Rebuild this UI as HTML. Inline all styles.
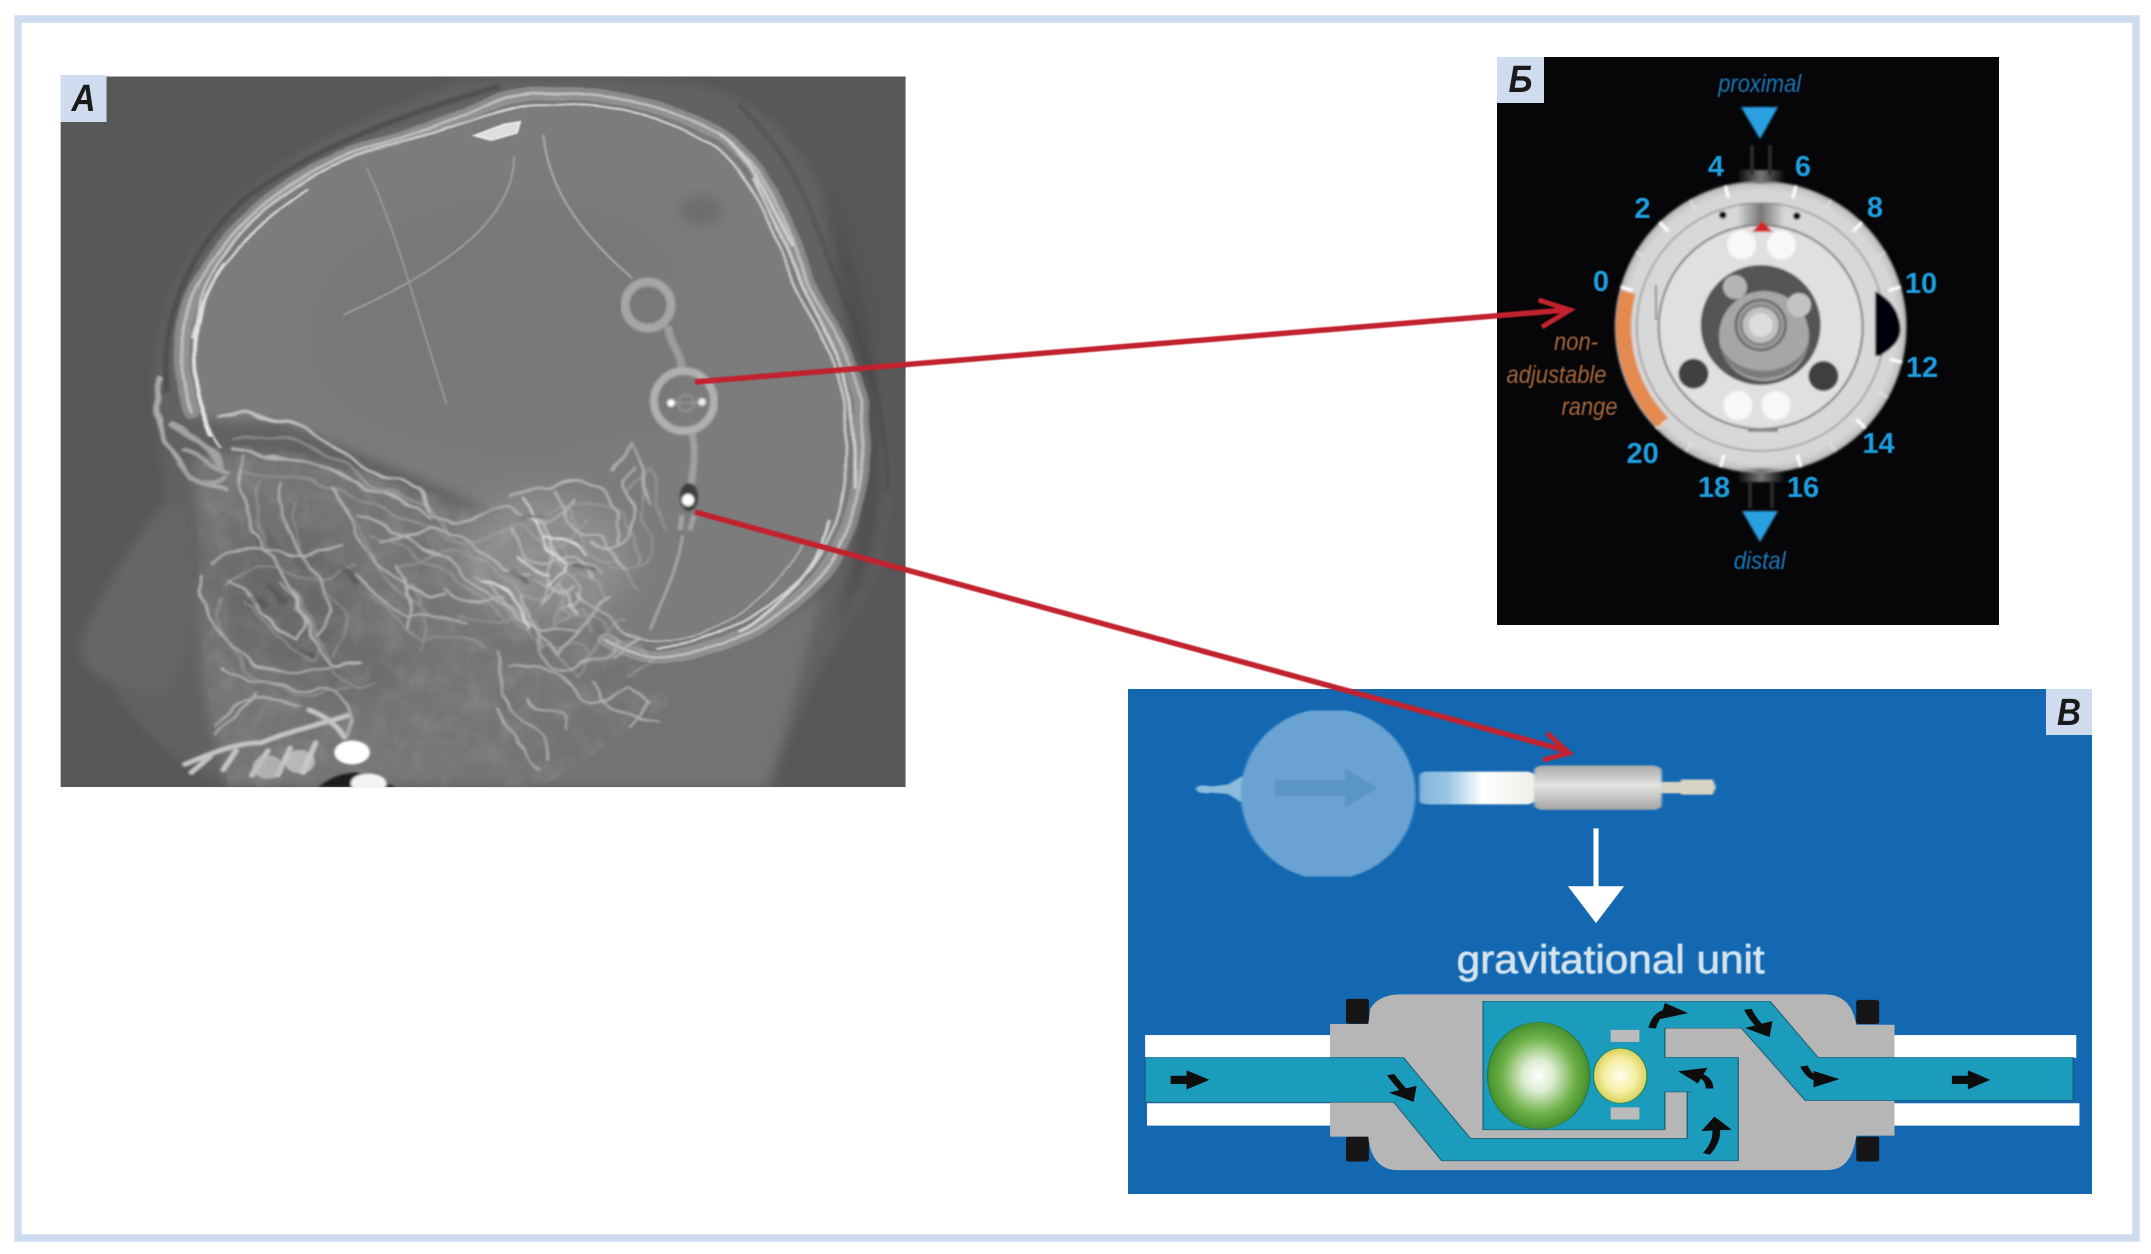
<!DOCTYPE html>
<html><head><meta charset="utf-8"><style>
html,body{margin:0;padding:0;background:#fff;width:2151px;height:1254px;overflow:hidden}
svg{display:block}
text{font-family:"Liberation Sans","DejaVu Sans",sans-serif}
</style></head><body>
<svg width="2151" height="1254" viewBox="0 0 2151 1254" xmlns="http://www.w3.org/2000/svg">
<defs>
<filter id="b1" x="-5%" y="-5%" width="110%" height="110%"><feGaussianBlur stdDeviation="1.3"/></filter>
<filter id="b15" x="-5%" y="-5%" width="110%" height="110%"><feGaussianBlur stdDeviation="2"/></filter>
<filter id="b2" x="-10%" y="-10%" width="120%" height="120%"><feGaussianBlur stdDeviation="9"/></filter>
<filter id="b3" x="-20%" y="-20%" width="140%" height="140%"><feGaussianBlur stdDeviation="24"/></filter>
<filter id="bt"><feGaussianBlur stdDeviation="0.6"/></filter>
<filter id="bd"><feGaussianBlur stdDeviation="1"/></filter>
<filter id="wig" x="-5%" y="-5%" width="110%" height="110%">
 <feTurbulence type="fractalNoise" baseFrequency="0.018" numOctaves="2" seed="7" result="n"/>
 <feDisplacementMap in="SourceGraphic" in2="n" scale="26" xChannelSelector="R" yChannelSelector="G"/>
 <feGaussianBlur stdDeviation="2"/>
</filter>
<filter id="wig2" x="-3%" y="-3%" width="106%" height="106%">
 <feTurbulence type="fractalNoise" baseFrequency="0.012" numOctaves="2" seed="3" result="n"/>
 <feDisplacementMap in="SourceGraphic" in2="n" scale="10" xChannelSelector="R" yChannelSelector="G"/>
 <feGaussianBlur stdDeviation="1.6"/>
</filter>
<filter id="noise" x="0" y="0" width="100%" height="100%">
 <feTurbulence type="fractalNoise" baseFrequency="0.03 0.022" numOctaves="3" seed="11"/>
 <feColorMatrix values="0 0 0 0 1  0 0 0 0 1  0 0 0 0 1  1.6 0 0 0 -.62"/>
</filter>
<clipPath id="ca"><rect x="95" y="141" width="1325" height="1311"/></clipPath>
<clipPath id="face"><path d="M320,820 C440,810 620,880 800,960 L1000,1170 L1050,1300 L850,1452 L360,1452 C320,1300 300,1100 320,820Z"/></clipPath>
<clipPath id="bulb"><rect x="190" y="118" width="300" height="482"/></clipPath>
<radialGradient id="green"><stop offset="0" stop-color="#fff"/><stop offset=".3" stop-color="#dcecd0"/><stop offset=".72" stop-color="#6db046"/><stop offset="1" stop-color="#46902f"/></radialGradient>
<radialGradient id="yel"><stop offset="0" stop-color="#fffdf0"/><stop offset=".6" stop-color="#f5efa0"/><stop offset="1" stop-color="#d8d060"/></radialGradient>
<linearGradient id="cyl" x1="0" y1="0" x2="0" y2="1"><stop offset="0" stop-color="#a8abab"/><stop offset=".45" stop-color="#e4e4e2"/><stop offset="1" stop-color="#a4a5a3"/></linearGradient>
<linearGradient id="tube" x1="0" y1="0" x2="1" y2="0"><stop offset="0" stop-color="#7fb3dc"/><stop offset=".25" stop-color="#9cc6e4"/><stop offset=".55" stop-color="#fff"/><stop offset="1" stop-color="#f0f0ea"/></linearGradient>
<radialGradient id="dial"><stop offset="0" stop-color="#e2e2e2"/><stop offset=".93" stop-color="#d6d6d6"/><stop offset=".98" stop-color="#c4c4c4"/><stop offset="1" stop-color="#8c8c8c"/></radialGradient>
<linearGradient id="bandTop" x1="0" y1="0" x2="1" y2="0"><stop offset="0" stop-color="#777" stop-opacity="0"/><stop offset=".5" stop-color="#777"/><stop offset="1" stop-color="#777" stop-opacity="0"/></linearGradient>
<marker id="ah" markerWidth="4" markerHeight="4" refX="1" refY="2" orient="auto"><path d="M0,0 L3.4,2 L0,4Z" fill="#111"/></marker>
</defs>

<!-- frame -->
<rect x="18" y="19" width="2118" height="1219" fill="#fff" stroke="#cfdcf0" stroke-width="7.5"/>

<!-- PANEL A -->
<g transform="scale(.6378,.5421)" clip-path="url(#ca)">
 <rect x="95" y="141" width="1325" height="1311" fill="#575757"/>
 <g filter="url(#b2)">
  <path d="M720,150 C800,140 1080,135 1150,175 C1210,210 1250,270 1280,330 C1320,420 1360,560 1385,720 C1400,880 1395,1000 1365,1080 C1320,1170 1280,1240 1250,1330 L1205,1452 L360,1452 C250,1400 190,1300 175,1260 C130,1240 120,1210 130,1170 C160,1100 200,1000 260,920 C250,800 230,700 250,620 C280,440 400,310 560,225 C620,195 680,170 720,150Z" fill="#626262"/>
  <path d="M1290,340 C1340,470 1370,600 1378,720 C1390,880 1380,1000 1350,1080 L1300,1180 C1340,1060 1360,900 1345,730 C1330,620 1310,480 1290,340Z" fill="#505050"/>
  <path d="M130,1170 C160,1100 200,1000 280,920 L320,1100 L260,1280 L175,1260 C130,1240 120,1210 130,1170Z" fill="#666"/>
  <path d="M300,760 C270,640 280,560 340,470 C400,370 500,290 620,250 C690,225 750,190 830,175 C950,165 1060,200 1130,250 C1200,310 1230,400 1260,500 C1280,570 1330,640 1350,740 C1360,880 1340,990 1280,1070 C1220,1150 1130,1205 1040,1210 C960,1200 900,1100 800,960 C700,900 560,830 440,780 C400,770 340,790 300,760Z" fill="#7b7b7b"/>
  <path d="M560,1130 C700,1100 880,1120 1040,1210 C1120,1205 1240,1150 1290,1090 L1205,1452 L600,1452Z" fill="#737373"/>
  <path d="M300,850 C420,800 600,880 800,970 L980,1190 L800,1452 L360,1452 C330,1360 300,1200 320,1050Z" fill="#747474"/>
  <ellipse cx="1098" cy="388" rx="34" ry="30" fill="#6e6e6e"/>
 </g>
 <g filter="url(#b3)">
  <path d="M500,600 C500,520 580,440 680,400 C800,360 960,380 1040,470 L1060,780 C1000,780 900,790 850,840 C760,820 620,800 540,740 C510,700 495,650 500,600Z" fill="#757575" opacity=".55"/>
  <ellipse cx="850" cy="1030" rx="140" ry="120" fill="#9a9a9a" opacity=".6"/>
  <ellipse cx="440" cy="1090" rx="110" ry="130" fill="#5e5e5e" opacity=".5"/>
  <ellipse cx="540" cy="1230" rx="90" ry="60" fill="#636363" opacity=".5"/>
 </g>
 <g clip-path="url(#face)"><rect x="300" y="800" width="780" height="652" filter="url(#noise)" opacity=".13"/></g>
 <g fill="none" stroke-linecap="round">
  <g filter="url(#b15)">
   <path d="M262,720 C250,600 290,470 380,370 C470,290 600,220 780,160" stroke="#3e3e3e" stroke-width="9" opacity=".5"/>
   <path d="M1160,195 C1240,290 1260,350 1300,480 C1340,600 1390,720 1392,900" stroke="#454545" stroke-width="7" opacity=".4"/>
  </g>
  <g filter="url(#wig2)">
   <path d="M300,760 C270,640 280,560 340,470 C400,370 500,290 620,258 C690,235 750,190 830,172 C950,165 1060,200 1130,250 C1200,310 1230,400 1260,500 C1280,570 1330,640 1350,740 C1360,880 1340,990 1280,1070 C1220,1150 1130,1205 1040,1212 C1000,1212 970,1195 950,1180" stroke="#a8a8a8" stroke-width="24" opacity=".55"/>
   <path d="M300,760 C270,640 280,560 340,470 C400,370 500,290 620,258 C690,235 750,190 830,172 C950,165 1060,200 1130,250 C1200,310 1230,400 1260,500 C1280,570 1330,640 1350,740 C1360,880 1340,990 1280,1070 C1220,1150 1130,1205 1040,1212 C1000,1212 970,1195 950,1180" stroke="#bdbdbd" stroke-width="5"/>
   <path d="M345,825 C300,730 285,610 330,510 C380,400 470,320 600,270 C680,250 740,215 820,195 C940,180 1040,215 1110,265 C1180,320 1210,420 1240,510 C1265,590 1310,650 1325,750 C1335,880 1320,980 1270,1050 C1210,1130 1120,1185 1030,1195" stroke="#cfcfcf" stroke-width="4"/>
   <path d="M330,800 C290,680 295,590 350,490" stroke="#e4e4e4" stroke-width="6"/>
   <path d="M300,620 C320,520 380,430 480,350" stroke="#d8d8d8" stroke-width="4"/>
   <path d="M1180,330 C1220,420 1250,500 1290,610 C1330,690 1345,800 1340,900" stroke="#cfcfcf" stroke-width="5"/>
   <path d="M1130,250 C1180,300 1215,390 1240,450" stroke="#cccccc" stroke-width="6"/>
   <path d="M1300,960 C1290,1030 1240,1110 1160,1165" stroke="#d4d4d4" stroke-width="5"/>
   <path d="M1260,1000 C1240,1060 1180,1130 1100,1170 C1060,1185 1010,1185 980,1170" stroke="#b4b4b4" stroke-width="3"/>
  </g>
  <g filter="url(#b1)">
   <path d="M745,250 L790,230 L815,225 L810,245 L770,258Z" fill="#dedede" stroke="#e8e8e8" stroke-width="4"/>
   <path d="M852,250 C860,340 900,420 990,512" stroke="#a2a2a2" stroke-width="4"/>
   <path d="M806,290 C805,400 710,490 540,580" stroke="#9c9c9c" stroke-width="3.5"/>
   <path d="M575,310 C620,420 650,560 700,745" stroke="#989898" stroke-width="3"/>
   <path d="M1070,990 C1060,1060 1040,1100 1020,1160" stroke="#9c9c9c" stroke-width="6"/>
  </g>
  <g filter="url(#wig)">
   <path d="M250,700 C240,760 260,830 300,880 L350,910" stroke="#aaa" stroke-width="9"/>
   <path d="M270,780 C300,800 330,820 350,860 M290,830 L360,870 M280,860 C310,890 340,900 355,880" stroke="#a2a2a2" stroke-width="9"/>
   <g id="fil">
    <path d="M340,770 C420,750 470,790 520,820 C560,870 620,880 660,900 L680,950" stroke="#c4c4c4" stroke-width="5"/>
    <path d="M360,830 C430,830 500,860 560,890 C610,920 650,930 680,960" stroke="#b4b4b4" stroke-width="5"/>
    <g stroke="#b4b4b4" stroke-width="4.2">
     <path d="M380,840 C370,920 400,980 420,1020 C450,1070 470,1120 500,1190 C510,1220 530,1240 560,1220"/>
     <path d="M440,890 C430,960 470,1010 490,1050 C520,1090 520,1130 500,1170"/>
     <path d="M520,900 C560,960 560,1020 600,1050 C640,1080 660,1110 700,1100"/>
     <path d="M330,1040 C350,1010 400,1000 440,1020 C480,1040 500,1020 530,1000"/>
     <path d="M320,1060 C310,1110 340,1170 370,1200 C410,1240 470,1250 520,1230"/>
     <path d="M360,1070 C400,1110 440,1180 470,1180 C490,1140 460,1100 440,1080"/>
     <path d="M600,1000 C650,980 700,970 740,1000 C780,1040 800,1080 830,1060"/>
     <path d="M560,950 C610,960 640,1000 680,1020 C720,1050 760,1090 780,1110"/>
     <path d="M660,900 C670,950 690,970 720,960 C760,940 790,920 810,950 C850,980 880,960 900,920"/>
     <path d="M800,920 C840,900 880,880 920,890 C960,900 980,950 970,1000"/>
     <path d="M800,980 C810,1020 830,1040 860,1030 C890,1010 920,1030 930,1070"/>
     <path d="M830,940 C860,960 870,1000 860,1040 C850,1080 880,1110 900,1090"/>
     <path d="M870,900 C890,950 900,1000 930,990 C950,980 960,1030 980,1050"/>
     <path d="M820,1030 L860,1060 L850,1110 L880,1080 L900,1130"/>
     <path d="M750,1060 C780,1090 800,1130 830,1150 C860,1170 880,1140 900,1170"/>
     <path d="M700,1090 C730,1120 760,1110 790,1100"/>
     <path d="M820,1100 C830,1140 860,1180 880,1210 C900,1170 930,1110 960,1100"/>
     <path d="M900,1100 C930,1120 960,1150 1000,1180 L960,1210"/>
     <path d="M930,1000 C960,1020 990,1000 1000,960 C990,920 970,890 990,860"/>
     <path d="M560,1060 C590,1090 610,1130 640,1140 C670,1130 700,1130 730,1150"/>
     <path d="M620,1040 C640,1080 650,1120 640,1160"/>
     <path d="M960,870 L990,820 C1010,850 1000,900 1020,930"/>
    </g>
    <g stroke="#dcdcdc" stroke-width="4">
     <path d="M820,920 C850,960 840,1000 870,1020 C900,1040 880,1070 860,1080"/>
     <path d="M760,1070 C800,1090 830,1120 830,1160"/>
     <path d="M850,990 C880,1000 910,990 920,1020"/>
     <path d="M810,1030 C830,1040 850,1060 860,1060"/>
    </g>
   </g>
   <use href="#fil" transform="translate(24,40)" opacity=".4"/>
   <g stroke="#b0b0b0" stroke-width="4">
    <path d="M350,1230 C400,1250 440,1280 500,1270 C540,1280 560,1320 550,1350"/>
    <path d="M340,1340 C370,1290 420,1270 470,1300"/>
    <path d="M400,1280 C380,1310 360,1330 340,1360"/>
    <path d="M780,1200 C790,1240 780,1280 800,1310 C830,1350 860,1340 860,1400"/>
    <path d="M800,1230 C840,1220 880,1240 900,1270 C920,1300 960,1290 990,1270 L1015,1290 L990,1340"/>
    <path d="M850,1170 C840,1210 860,1250 900,1230 C930,1210 950,1230 970,1180"/>
    <path d="M780,1310 C800,1360 820,1400 850,1420"/>
    <path d="M930,1260 C950,1300 980,1330 1030,1330"/>
    <path d="M830,1290 C850,1320 880,1300 890,1340"/>
   </g>
   <g stroke="#444" stroke-width="9" opacity=".4">
    <path d="M820,960 L850,950 M900,1040 L930,1050 M800,1060 L820,1075 M420,1090 L445,1110 M540,1050 L560,1070 M470,1200 L490,1210 M390,1110 L420,1120"/>
   </g>
  </g>
  <g stroke="#c4c4c4" stroke-width="9" filter="url(#b15)">
   <path d="M290,1410 C330,1390 370,1370 410,1370 C450,1350 490,1340 545,1320"/>
   <path d="M300,1425 L330,1395 M350,1420 L370,1385 M395,1430 L420,1385 M435,1430 L455,1380 M475,1425 L495,1370"/>
   <path d="M485,1310 C510,1320 530,1340 540,1360"/>
  </g>
 </g>
 <g filter="url(#b15)">
  <ellipse cx="420" cy="1415" rx="24" ry="22" fill="#bdbdbd" opacity=".8"/>
  <ellipse cx="470" cy="1405" rx="24" ry="22" fill="#c8c8c8" opacity=".8"/>
  <path d="M500,1452 C520,1430 545,1425 560,1425 L620,1452Z" fill="#111" opacity=".85"/>
  <ellipse cx="552" cy="1388" rx="28" ry="22" fill="#fff"/>
  <ellipse cx="578" cy="1445" rx="28" ry="18" fill="#f4f4f4"/>
 </g>
</g>
<g fill="none" filter="url(#b1)">
 <circle cx="648" cy="305" r="23" stroke="#a6a6a6" stroke-width="9"/>
 <path d="M668,326 C670,345 680,350 682,368" stroke="#9c9c9c" stroke-width="8"/>
 <circle cx="684" cy="401" r="30" stroke="#b0b0b0" stroke-width="8"/>
 <circle cx="686" cy="403" r="8" stroke="#8e8e8e" stroke-width="3"/>
 <path d="M672,403 H702" stroke="#939393" stroke-width="2"/>
 <path d="M692,433 C696,450 694,470 690,488" stroke="#a0a0a0" stroke-width="7"/>
 <path d="M682,515 L680,530 M694,515 L690,530" stroke="#a4a4a4" stroke-width="5"/>
 <ellipse cx="689" cy="497" rx="9" ry="14" fill="#3d3d3d" stroke="none"/>
 <ellipse cx="688" cy="500" rx="6" ry="6" fill="#fff" stroke="none"/>
 <circle cx="671" cy="403" r="4" fill="#fff" stroke="none"/>
 <circle cx="702" cy="402" r="4" fill="#eee" stroke="none"/>
</g>
<rect x="60.5" y="75" width="46" height="47" fill="#cfdcf0"/>
<text x="83.5" y="111" text-anchor="middle" font-size="38" font-weight="bold" font-style="italic" fill="#1a1a1a" textLength="24" lengthAdjust="spacingAndGlyphs">А</text>

<!-- PANEL Б -->
<rect x="1497" y="57" width="502" height="568" fill="#060608"/>
<g filter="url(#bd)">
 <circle cx="1760.7" cy="327" r="146" fill="url(#dial)"/>
 <circle cx="1760.7" cy="327" r="124" fill="none" stroke="#999" stroke-width="1.6"/>
 <circle cx="1760.7" cy="327" r="102" fill="#e0e0e0" stroke="#7a7a7a" stroke-width="2"/>
 <rect x="1737" y="203" width="48" height="22" fill="url(#bandTop)"/>
 <rect x="1737" y="170" width="48" height="14" fill="url(#bandTop)"/>
 <rect x="1750" y="145" width="4" height="30" fill="#2c2c2c"/><rect x="1768" y="145" width="4" height="30" fill="#2c2c2c"/>
 <rect x="1737" y="468" width="48" height="14" fill="url(#bandTop)"/>
 <rect x="1748" y="480" width="4" height="28" fill="#2c2c2c"/><rect x="1770" y="480" width="4" height="28" fill="#2c2c2c"/>
 <rect x="1748" y="428" width="30" height="4" fill="#888"/>
 <g stroke="#fff" stroke-width="3">
  <line x1="1760.7" y1="181" x2="1760.7" y2="194" transform="rotate(14 1760.7 327)"/>
  <line x1="1760.7" y1="181" x2="1760.7" y2="194" transform="rotate(44 1760.7 327)"/>
  <line x1="1760.7" y1="181" x2="1760.7" y2="194" transform="rotate(74 1760.7 327)"/>
  <line x1="1760.7" y1="181" x2="1760.7" y2="194" transform="rotate(104 1760.7 327)"/>
  <line x1="1760.7" y1="181" x2="1760.7" y2="194" transform="rotate(134 1760.7 327)"/>
  <line x1="1760.7" y1="181" x2="1760.7" y2="194" transform="rotate(164 1760.7 327)"/>
  <line x1="1760.7" y1="181" x2="1760.7" y2="194" transform="rotate(-14 1760.7 327)"/>
  <line x1="1760.7" y1="181" x2="1760.7" y2="194" transform="rotate(-44 1760.7 327)"/>
  <line x1="1760.7" y1="181" x2="1760.7" y2="194" transform="rotate(-74 1760.7 327)"/>
  <line x1="1760.7" y1="181" x2="1760.7" y2="194" transform="rotate(-134 1760.7 327)"/>
  <line x1="1760.7" y1="181" x2="1760.7" y2="194" transform="rotate(-164 1760.7 327)"/>
 </g>
 <g stroke="#f2f2f2" stroke-width="1.5" opacity=".7">
  <line x1="1760.7" y1="181" x2="1760.7" y2="192" transform="rotate(29 1760.7 327)"/>
  <line x1="1760.7" y1="181" x2="1760.7" y2="192" transform="rotate(59 1760.7 327)"/>
  <line x1="1760.7" y1="181" x2="1760.7" y2="192" transform="rotate(119 1760.7 327)"/>
  <line x1="1760.7" y1="181" x2="1760.7" y2="192" transform="rotate(149 1760.7 327)"/>
  <line x1="1760.7" y1="181" x2="1760.7" y2="192" transform="rotate(-29 1760.7 327)"/>
  <line x1="1760.7" y1="181" x2="1760.7" y2="192" transform="rotate(-59 1760.7 327)"/>
  <line x1="1760.7" y1="181" x2="1760.7" y2="192" transform="rotate(-149 1760.7 327)"/>
 </g>
 <path d="M1628.3,292 A137,137 0 0 0 1662.7,422.7" fill="none" stroke="#e58a50" stroke-width="15"/>
 <path d="M1875,291 L1875,356 L1880,356 C1898,345 1905,335 1898,316 C1895,305 1885,296 1875,291Z" fill="#060608"/>
 <circle cx="1722.8" cy="215" r="3.8" fill="#111"/><circle cx="1796.8" cy="216" r="3.8" fill="#111"/>
 <path d="M1752,232 L1773,232 L1762,221Z" fill="#d0282c"/>
 <circle cx="1741.7" cy="245" r="14.5" fill="#f8f8f8"/><circle cx="1781.4" cy="245" r="14.5" fill="#f8f8f8"/>
 <circle cx="1738" cy="405.5" r="14.5" fill="#f8f8f8"/><circle cx="1776" cy="405.5" r="14.5" fill="#f8f8f8"/>
 <circle cx="1693.5" cy="373.7" r="15" fill="#404040"/><circle cx="1823.4" cy="376" r="15" fill="#404040"/>
 <circle cx="1760.7" cy="325" r="60" fill="#555"/>
 <circle cx="1764" cy="336" r="45" fill="#a6a6a6"/>
 <path d="M1718,325 A45,45 0 0 0 1809,340 A46,38 0 0 1 1718,325Z" fill="#6e6e6e" opacity=".75"/>
 <circle cx="1735" cy="287" r="12" fill="#b4b4b4"/>
 <circle cx="1799" cy="305" r="12" fill="#c2c2c2"/>
 <circle cx="1760.7" cy="325" r="25" fill="#999" stroke="#555" stroke-width="2"/>
 <circle cx="1760.7" cy="325" r="19" fill="#c0c0c0" stroke="#666" stroke-width="1.5"/>
 <circle cx="1760.7" cy="325" r="12" fill="#dcdcdc"/>
 <path d="M1656,285 L1656,320" stroke="#888" stroke-width="2" fill="none"/>
 <path d="M1741,107 H1778 L1760,139Z" fill="#29a0e2"/>
 <path d="M1742,511 H1778 L1760,542Z" fill="#29a0e2"/>
</g>
<g filter="url(#bt)">
 <g font-size="29" font-weight="bold" fill="#1e9ee0" text-anchor="middle">
  <text x="1716" y="176">4</text><text x="1803" y="176">6</text>
  <text x="1642.5" y="218">2</text><text x="1875" y="217">8</text>
  <text x="1601" y="291">0</text><text x="1921" y="293">10</text>
  <text x="1922" y="377">12</text><text x="1642.6" y="463">20</text>
  <text x="1878.5" y="453">14</text><text x="1714" y="497">18</text><text x="1803" y="497">16</text>
 </g>
 <g font-size="25" font-style="italic" text-anchor="middle">
  <text x="1759.7" y="92" fill="#1a76b5" textLength="83" lengthAdjust="spacingAndGlyphs">proximal</text>
  <text x="1759.7" y="569" fill="#1a76b5" textLength="52" lengthAdjust="spacingAndGlyphs">distal</text>
  <text x="1576" y="350" fill="#a5663a" textLength="44" lengthAdjust="spacingAndGlyphs">non-</text>
  <text x="1556.5" y="383" fill="#a5663a" textLength="100" lengthAdjust="spacingAndGlyphs">adjustable</text>
  <text x="1589.5" y="415" fill="#a5663a" textLength="56" lengthAdjust="spacingAndGlyphs">range</text>
 </g>
</g>
<rect x="1497" y="57" width="47" height="46" fill="#cfdcf0"/>
<text x="1520.5" y="92" text-anchor="middle" font-size="38" font-weight="bold" font-style="italic" fill="#1a1a1a" textLength="24" lengthAdjust="spacingAndGlyphs">Б</text>

<!-- PANEL В -->
<rect x="1128" y="689" width="964" height="505" fill="#1468b1"/>
<g transform="translate(1110,670) scale(.6378,.3444)" filter="url(#b15)">
 <path d="M135,345 C135,332 150,335 160,338 L185,332 L215,300 L215,395 L185,360 L160,356 C150,360 135,358 135,345Z" fill="#8bbcdc"/>
 <g clip-path="url(#bulb)"><ellipse cx="342" cy="360" rx="137" ry="248" fill="#6aa3d3"/></g>
 <path d="M258,320 H368 V285 L420,343 L368,400 V365 H258Z" fill="#5a95c6"/>
 <rect x="485" y="295" width="180" height="95" rx="12" fill="url(#tube)"/>
 <path d="M865,325 H895 V318 H945 L950,340 L945,362 H895 V358 H865Z" fill="#d8d4c4"/>
 <rect x="665" y="278" width="200" height="128" rx="14" fill="url(#cyl)"/>
</g>
<g transform="translate(1110,670) scale(.6378,.3444)" filter="url(#bt)">
 <path d="M762,460 V630" stroke="#fff" stroke-width="8"/>
 <path d="M718,628 H806 L762,735Z" fill="#fff"/>
 <rect x="55" y="1060" width="295" height="66" fill="#fff"/>
 <rect x="58" y="1258" width="292" height="65" fill="#fff"/>
 <rect x="1225" y="1060" width="290" height="66" fill="#fff"/>
 <rect x="1225" y="1258" width="295" height="65" fill="#fff"/>
 <rect x="370" y="955" width="36" height="72" rx="5" fill="#151515"/>
 <rect x="370" y="1355" width="36" height="72" rx="5" fill="#151515"/>
 <rect x="1170" y="958" width="36" height="70" rx="5" fill="#151515"/>
 <rect x="1170" y="1355" width="36" height="72" rx="5" fill="#151515"/>
 <path d="M345,1028 H405 L408,985 C415,960 430,942 455,942 H1120 C1150,942 1165,975 1170,1030 H1230 V1352 H1170 C1165,1420 1150,1452 1125,1452 H450 C425,1452 408,1420 405,1355 H345Z" fill="#b6b6b6"/>
 <path d="M55,1125 H460 L565,1360 H905 V1125 H985 V1425 H520 L445,1255 H55Z" fill="#1b9cbc" stroke="#1d5f78" stroke-width="2"/>
 <path d="M585,962 H1035 L1110,1125 H1510 V1250 H1090 L990,1040 H870 V1125 H910 V1225 H870 V1335 H585Z" fill="#1b9cbc" stroke="#1d5f78" stroke-width="2"/>
 <rect x="900" y="1127" width="20" height="96" fill="#1b9cbc"/>
 <ellipse cx="672" cy="1178" rx="80" ry="155" fill="url(#green)" stroke="#2f7a35" stroke-width="2"/>
 <rect x="785" y="1045" width="45" height="35" fill="#bbb"/>
 <rect x="785" y="1270" width="45" height="35" fill="#bbb"/>
 <ellipse cx="800" cy="1178" rx="42" ry="80" fill="url(#yel)" stroke="#285" stroke-width="2"/>
 <g fill="#111">
  <path d="M95,1178 H120 V1162 L156,1190 L120,1218 V1202 H95Z"/>
  <path d="M1320,1178 H1345 V1162 L1380,1190 L1345,1218 V1202 H1320Z"/>
 </g>
 <g fill="none" stroke="#111" stroke-width="12" marker-end="url(#ah)">
  <path d="M440,1175 C450,1200 458,1215 464,1228"/>
  <path d="M850,1040 C855,1005 865,990 878,992"/>
  <path d="M1000,985 C1008,1015 1015,1025 1022,1040"/>
  <path d="M1088,1150 C1095,1175 1102,1188 1115,1188"/>
  <path d="M940,1215 C940,1190 930,1178 918,1174"/>
  <path d="M935,1405 C950,1375 952,1350 950,1325"/>
 </g>
</g>
<text x="1610.7" y="973" text-anchor="middle" font-size="40" fill="#d4e4ee" stroke="#d4e4ee" stroke-width=".7" textLength="308" lengthAdjust="spacingAndGlyphs" filter="url(#bt)">gravitational unit</text>
<rect x="2046" y="689" width="46" height="46" fill="#cfdcf0"/>
<text x="2069" y="725" text-anchor="middle" font-size="38" font-weight="bold" font-style="italic" fill="#1a1a1a" textLength="24" lengthAdjust="spacingAndGlyphs">В</text>

<!-- red connectors -->
<g fill="none" stroke="#c1212e" stroke-linejoin="miter" filter="url(#bt)">
 <path d="M695,382 L1566,310" stroke-width="5.5"/>
 <path d="M1538.5,300 L1570,310 L1542,327" stroke-width="5"/>
 <path d="M695,512 L1564,750" stroke-width="5.5"/>
 <path d="M1547,733 L1569,753 L1543,760" stroke-width="5"/>
</g>
</svg>
</body></html>
